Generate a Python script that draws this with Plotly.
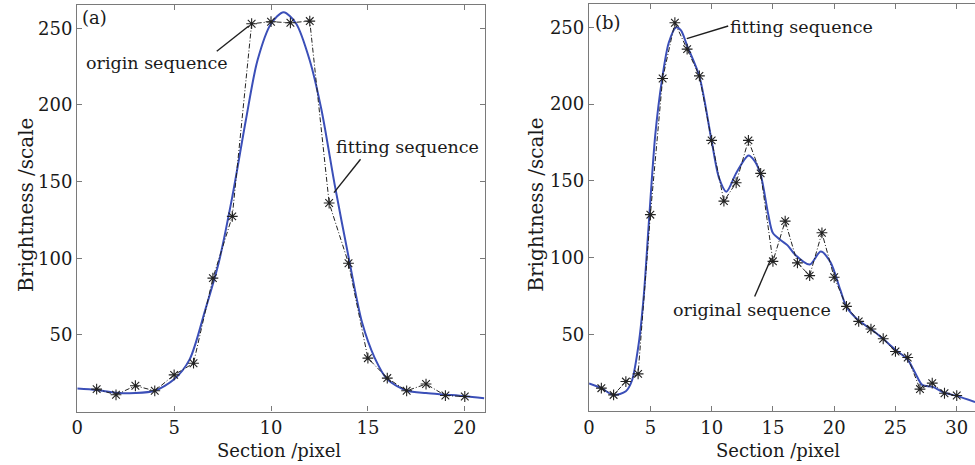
import plotly.graph_objects as go

# ---- panel (a): single-peak profile ----
sec_a = list(range(1, 21))
orig_a = [14.6, 10.9, 16.8, 13.5, 23.9, 31.5, 87, 127.3, 253, 254.3,
          253.6, 254.7, 136, 96.7, 34.8, 21.8, 13.5, 17.9, 10.4, 9.8]
fit_a_x = [0, 1, 2, 3, 4, 5, 5.8, 6.6, 7.3, 8.0, 8.7, 9.3, 10.0, 10.65, 11.3,
           12.0, 12.6, 13.3, 14.0, 14.7, 15.35, 16.0, 17.0, 18.0, 19.0, 20.0, 21.0]
fit_a_y = [15, 14, 12.3, 12, 13.5, 21, 34, 66, 97, 140, 190, 229, 253, 260.5, 253,
           229, 197, 147, 101, 58, 35, 21, 13.7, 12, 11, 10, 8.7]

# ---- panel (b): multi-peak profile ----
sec_b = list(range(1, 31))
orig_b = [15, 10.6, 19.3, 24.3, 128, 216.7, 253, 235.8, 218.4, 176.4,
          136.8, 148.8, 176.4, 154.9, 97.6, 123.8, 96.6, 88.3, 116.2, 87.2,
          68.3, 58.5, 53.5, 47.2, 38.9, 35, 14.4, 18.3, 11.7, 10.2]
fit_b_x = [0, 1, 2, 3, 3.5, 4.05, 4.46, 4.87, 5.4, 5.95, 6.5, 7.1, 7.5, 8.0, 9.0,
           10.0, 10.6, 11.2, 12.0, 13.0, 13.5, 14.0, 14.6, 15.0, 15.7, 16.2, 16.8,
           18.0, 18.9, 19.7, 20.5, 21, 22, 23, 24, 25, 26, 26.6, 27.2, 28, 29, 30, 31.5]
fit_b_y = [18, 15, 10.5, 13, 20, 44, 75, 122, 180, 216, 240, 250, 248, 238, 218,
           176, 152, 143, 155, 166.5, 163, 154, 129, 116, 111, 108, 102,
           95.5, 104, 97, 79, 68, 59, 53.5, 47, 40, 33.5, 25, 17, 16, 12, 10, 6]

y_ticks = [50, 100, 150, 200, 250]
xa_ticks = [0, 5, 10, 15, 20]
xb_ticks = [0, 5, 10, 15, 20, 25, 30]

FONT = "DejaVu Serif"
TXT = "#1a1a1a"
FRAME = "#7a7a7a"
BLUE = "#3b4fb8"

fig = go.Figure()

def add_panel(xs, ys, fx, fy, xaxis, yaxis):
    fig.add_trace(go.Scatter(x=fx, y=fy, mode="lines", line_shape="spline",
                             line=dict(color=BLUE, width=2, smoothing=0.8),
                             xaxis=xaxis, yaxis=yaxis, showlegend=False,
                             hoverinfo="skip"))
    fig.add_trace(go.Scatter(x=xs, y=ys, mode="lines+markers",
                             line=dict(color="#222222", width=1, dash="5px,2px,1px,2px"),
                             marker=dict(symbol="asterisk-open", size=9,
                                         line=dict(color="#222222", width=1.1)),
                             xaxis=xaxis, yaxis=yaxis, showlegend=False))

add_panel(sec_a, orig_a, fit_a_x, fit_a_y, "x", "y")
add_panel(sec_b, orig_b, fit_b_x, fit_b_y, "x2", "y2")

axis_common = dict(showline=True, linecolor=FRAME, linewidth=1.4,
                   ticks="inside", ticklen=5, tickcolor=FRAME, tickwidth=1,
                   showgrid=False, zeroline=False,
                   tickfont=dict(family=FONT, size=18, color=TXT))

fig.update_layout(
    width=975, height=465,
    margin=dict(l=0, r=0, t=0, b=0),
    paper_bgcolor="white", plot_bgcolor="white",
    xaxis=dict(domain=[71.7 / 975, 481.7 / 975], range=[0, 21.03],
               tickvals=xa_ticks, mirror="ticks", anchor="y", **axis_common),
    yaxis=dict(domain=[53.5 / 465, 460 / 465], range=[0, 265.2],
               tickvals=y_ticks, mirror="ticks", anchor="x",
               ticklabelstandoff=0, **axis_common),
    xaxis2=dict(domain=[586.7 / 975, 1.0], range=[0, 31.49],
                tickvals=xb_ticks, mirror="ticks", anchor="y2", **axis_common),
    yaxis2=dict(domain=[53.8 / 465, 461 / 465], range=[0, 265.2],
                tickvals=y_ticks, mirror=False, anchor="x2",
                ticklabelstandoff=0, **axis_common),
)

def label(text, x, y, xref, yref, xanchor="center", angle=0, size=17.5):
    fig.add_annotation(text=text, x=x, y=y, xref=xref, yref=yref,
                       xanchor=xanchor, yanchor="middle", showarrow=False,
                       textangle=angle,
                       font=dict(family=FONT, size=size, color=TXT))

def pointer(x0, y0, x1, y1, xref, yref):
    fig.add_shape(type="line", x0=x0, y0=y0, x1=x1, y1=y1, xref=xref, yref=yref,
                  line=dict(color="#1e1e1e", width=1.4))

# panel tags and callouts
label("(a)", 0.15, 257, "x", "y", xanchor="left", size=18)
label("origin sequence", 4.14, 227.2, "x", "y")
pointer(7.2, 235, 8.85, 251.5, "x", "y")
label("fitting sequence", 17.04, 172.8, "x", "y")
pointer(14.62, 164.6, 13.25, 142.8, "x", "y")

label("(b)", 0.3, 253.3, "x2", "y2", xanchor="left", size=18)
label("fitting sequence", 17.36, 249.9, "x2", "y2")
pointer(11.35, 250.9, 7.97, 242.7, "x2", "y2")
label("original sequence", 13.31, 66, "x2", "y2")
pointer(13.51, 74.7, 14.87, 99.8, "x2", "y2")

# axis titles
label("Brightness /scale", 20 / 975, 1 - 205 / 465, "paper", "paper", angle=-90, size=20)
label("Brightness /scale", 533 / 975, 1 - 205 / 465, "paper", "paper", angle=-90, size=20)
label("Section /pixel", 275 / 975, 1 - 450 / 465, "paper", "paper", size=18)
label("Section /pixel", 777 / 975, 1 - 450 / 465, "paper", "paper", size=18)

fig.write_html("out.html")
